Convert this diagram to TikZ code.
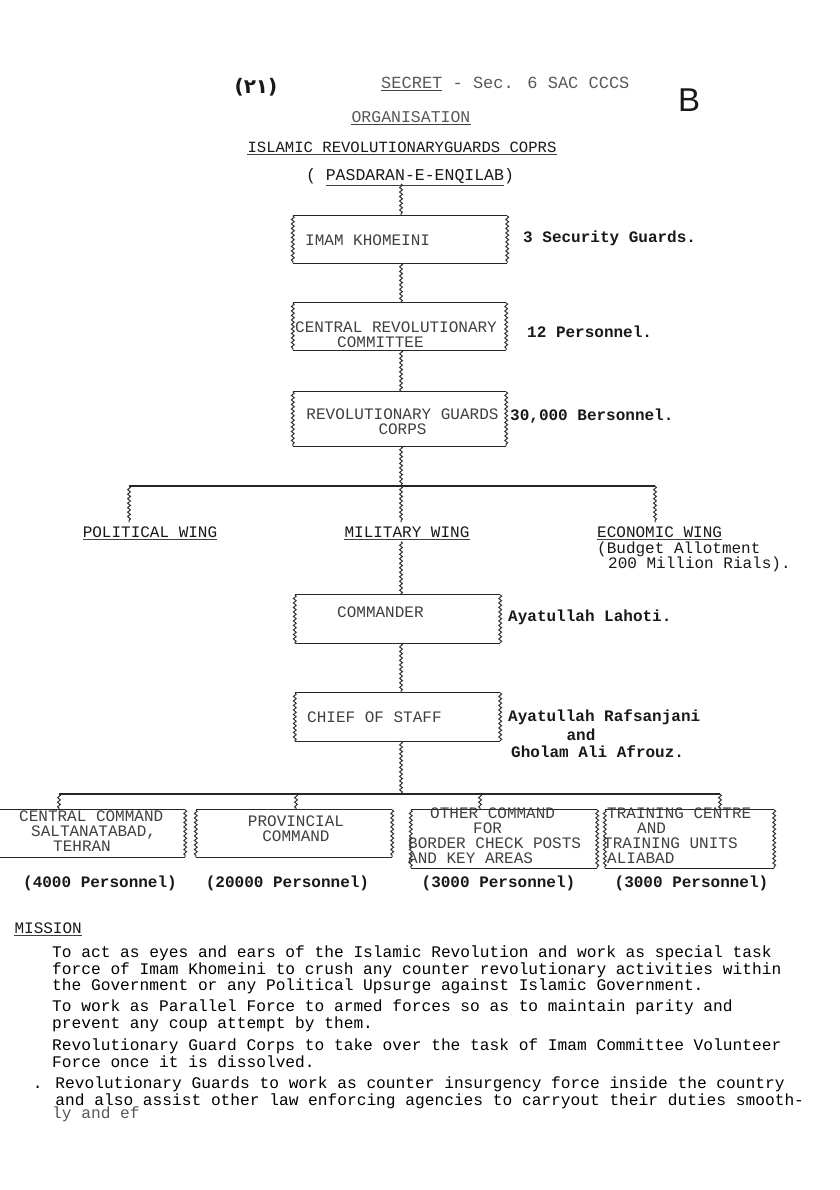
\documentclass[tikz,border=0pt]{standalone}
\usepackage{fontspec}
\setmainfont{Liberation Mono}
\newfontfamily\tw{Liberation Mono}
\newfontfamily\sans{Liberation Sans}
\newfontfamily\arabicfont[Script=Arabic]{DejaVu Sans}
\usetikzlibrary{decorations.pathmorphing}

\tikzset{
  every node/.style={font=\tw\fontsize{16}{15}\selectfont, inner sep=0pt},
  ink/.style={black!90},
  faint/.style={black!65},
  note/.style={black!90, anchor=west, font=\tw\bfseries\fontsize{16}{15}\selectfont},
  boxtext/.style={black!75, align=left},
  orgbox/.style={minimum width=#1},
  chain/.style={decorate, decoration={snake, amplitude=1.4pt, segment length=4.5pt}, line width=1pt, black!80},
  rule/.style={line width=1.3pt, black!85},
  uline/.style={line width=1pt, black!75},
}
\newcommand{\orgframe}[1]{%
  \draw[rule] (#1.north west) -- (#1.north east);
  \draw[rule] (#1.south west) -- (#1.south east);
  \draw[chain] (#1.north west) -- (#1.south west);
  \draw[chain] (#1.north east) -- (#1.south east);}

\begin{document}
\begin{tikzpicture}[x=1pt,y=-1pt]
\useasboundingbox (0,0) rectangle (839,1190);
\clip (0,0) rectangle (839,1190);
\fill[white] (0,0) rectangle (839,1190);
\coordinate (spine) at (401,0);

% header
\node[ink, font=\arabicfont\bfseries\fontsize{20}{20}\selectfont] (pageno) at (256,87) {(۲۱)};
\node[faint, anchor=west, font=\tw\fontsize{17}{17}\selectfont] (secret) at (381,83) {SECRET - Sec. 6 SAC CCCS};
\draw[uline] ([yshift=-2]secret.south west) -- ++(61,0);
\node[ink, font=\sans\fontsize{33}{33}\selectfont] (mark) at (689,100) {B};
\node[faint, font=\tw\fontsize{16.5}{16}\selectfont] (org) at (411,117) {ORGANISATION};
\draw[uline] ([yshift=-2]org.south west) -- ([yshift=-2]org.south east);
\node[ink, font=\tw\fontsize{15.6}{15}\selectfont] (title) at (402,147) {ISLAMIC REVOLUTIONARYGUARDS COPRS};
\draw[uline] ([yshift=-2]title.south west) -- ([yshift=-2]title.south east);
\node[ink, font=\tw\fontsize{16.5}{16}\selectfont] (pasdaran) at (410,176) {( PASDARAN-E-ENQILAB)};
\draw[uline] ([xshift=20,yshift=-2]pasdaran.south west) -- ([xshift=-10,yshift=-2]pasdaran.south east);

% upper chain of command
\node[orgbox=214pt, minimum height=47pt] (imam) at (400,239.5) {};
\node[orgbox=213pt, minimum height=47pt] (crc) at (399.5,326.5) {};
\node[orgbox=213pt, minimum height=54pt] (rgc) at (399.5,419) {};
\foreach \b in {imam,crc,rgc} {\orgframe{\b}}
\node[boxtext, anchor=west] (imamtext) at (305,240) {IMAM KHOMEINI};
\node[boxtext, anchor=west] (crctext) at (295,334.5) {CENTRAL REVOLUTIONARY\\\hspace{42pt}COMMITTEE};
\node[boxtext, align=center] (rgctext) at (402.5,421.5) {REVOLUTIONARY GUARDS\\CORPS};

\node[note] (imamnote) at (523,238) {3 Security Guards.};
\node[note] (crcnote) at (527,332) {12 Personnel.};
\node[note] (rgcnote) at (510,416) {30,000 Bersonnel.};

\draw[chain] (pasdaran.south -| spine) -- (imam.north -| spine);
\draw[chain] (imam.south -| spine) -- (crc.north -| spine);
\draw[chain] (crc.south -| spine) -- (rgc.north -| spine);

% wings
\coordinate (wingbar) at (401,486);
\coordinate (polbar) at (129,486);
\coordinate (ecobar) at (655,486);
\draw[chain] (rgc.south -| spine) -- (wingbar);
\draw[rule] (polbar) -- (ecobar);
\node[ink] (political) at (150,532) {POLITICAL WING};
\node[ink] (military) at (407,532) {MILITARY WING};
\node[ink, anchor=west] (economic) at (597,532) {ECONOMIC WING};
\node[ink, anchor=north west, align=left] (budget) at ([yshift=-4]economic.south west)
  {(Budget Allotment\\\hspace{11pt}200 Million Rials).};
\foreach \w in {political,military,economic} {
  \draw[uline] ([yshift=-2]\w.south west) -- ([yshift=-2]\w.south east);
}
\draw[chain] (polbar) -- ([yshift=4]political.north -| polbar);
\draw[chain] (wingbar) -- ([yshift=4]military.north -| wingbar);
\draw[chain] (ecobar) -- ([yshift=4]economic.north -| ecobar);

% military wing
\node[orgbox=205pt, minimum height=48pt] (commander) at (397.5,619) {};
\node[orgbox=205pt, minimum height=48pt] (chief) at (397.5,717) {};
\foreach \b in {commander,chief} {\orgframe{\b}}
\node[boxtext, anchor=west] (cmdtext) at (337,612) {COMMANDER};
\node[boxtext, anchor=west] (chieftext) at (307,717) {CHIEF OF STAFF};
\draw[chain] ([yshift=-4]military.south -| spine) -- (commander.north -| spine);
\draw[chain] (commander.south -| spine) -- (chief.north -| spine);

\node[note] (cmdnote) at (508,617) {Ayatullah Lahoti.};
\node[note] (chiefnote) at (508,717) {Ayatullah Rafsanjani};
\node[note, anchor=center] (chiefand) at (581,735) {and};
\node[note] (chiefnote2) at (511,752) {Gholam Ali Afrouz.};

% commands
\coordinate (cmdbar) at (401,794);
\coordinate (cmdbarA) at (59,794);
\coordinate (cmdbarB) at (296,794);
\coordinate (cmdbarC) at (480,794);
\coordinate (cmdbarD) at (720,794);
\draw[chain] (chief.south -| spine) -- (cmdbar);
\draw[rule] (cmdbarA) -- (cmdbarD);

\node[orgbox=195pt, minimum height=47pt] (cmdA) at (87.5,833.5) {};
\node[orgbox=196pt, minimum height=47pt] (cmdB) at (294,833.5) {};
\node[orgbox=186pt, minimum height=58pt] (cmdC) at (504,839) {};
\node[orgbox=169pt, minimum height=58pt] (cmdD) at (689.5,839) {};
\foreach \b in {cmdA,cmdB,cmdC,cmdD} {\orgframe{\b}}
\draw[chain] (cmdbarA) -- (cmdbarA |- cmdA.north);
\draw[chain] (cmdbarB) -- (cmdbarB |- cmdB.north);
\draw[chain] (cmdbarC) -- (cmdbarC |- cmdC.north);
\draw[chain] (cmdbarD) -- (cmdbarD |- cmdD.north);

\node[boxtext, anchor=north west] (cmdAtext) at (19,811)
  {CENTRAL COMMAND\\\hspace{12pt}SALTANATABAD,\\\hspace{34pt}TEHRAN};
\node[boxtext, align=center] (cmdBtext) at (296,828.5) {PROVINCIAL\\COMMAND};
\node[boxtext, anchor=north west] (cmdCtext) at (408,808)
  {\hspace{22pt}OTHER COMMAND\\\hspace{65pt}FOR\\BORDER CHECK POSTS\\AND KEY AREAS};
\node[boxtext, anchor=north west] (cmdDtext) at (603,808)
  {\hspace{4pt}TRAINING CENTRE\\\hspace{34pt}AND\\TRAINING UNITS\\\hspace{4pt}ALIABAD};

\node[note, anchor=center] (strA) at (100,883) {(4000 Personnel)};
\node[note, anchor=center] (strB) at (287.5,883) {(20000 Personnel)};
\node[note, anchor=center] (strC) at (498.5,883) {(3000 Personnel)};
\node[note, anchor=center] (strD) at (691.5,883) {(3000 Personnel)};

% mission
\node[ink, anchor=east] (mission) at (82,928) {MISSION};
\draw[uline] ([yshift=-2]mission.south west) -- ([yshift=-2]mission.south east);
\begin{scope}[every node/.append style={black, anchor=north west, align=left, font=\tw\fontsize{16.2}{15}\selectfont}]
\node (task1) at (52,946) {To act as eyes and ears of the Islamic Revolution and work as special task\\
force of Imam Khomeini to crush any counter revolutionary activities within\\
the Government or any Political Upsurge against Islamic Government.};
\node (task2) at (52,1000) {To work as Parallel Force to armed forces so as to maintain parity and\\
prevent any coup attempt by them.};
\node (task3) at (52,1039) {Revolutionary Guard Corps to take over the task of Imam Committee Volunteer\\
Force once it is dissolved.};
\node (task4) at (32.6,1077) {. Revolutionary Guards to work as counter insurgency force inside the country\\
\phantom{. }and also assist other law enforcing agencies to carryout their duties smooth-};
\node[faint] (task4b) at (52,1107) {ly and ef};
\end{scope}
\end{tikzpicture}
\end{document}
